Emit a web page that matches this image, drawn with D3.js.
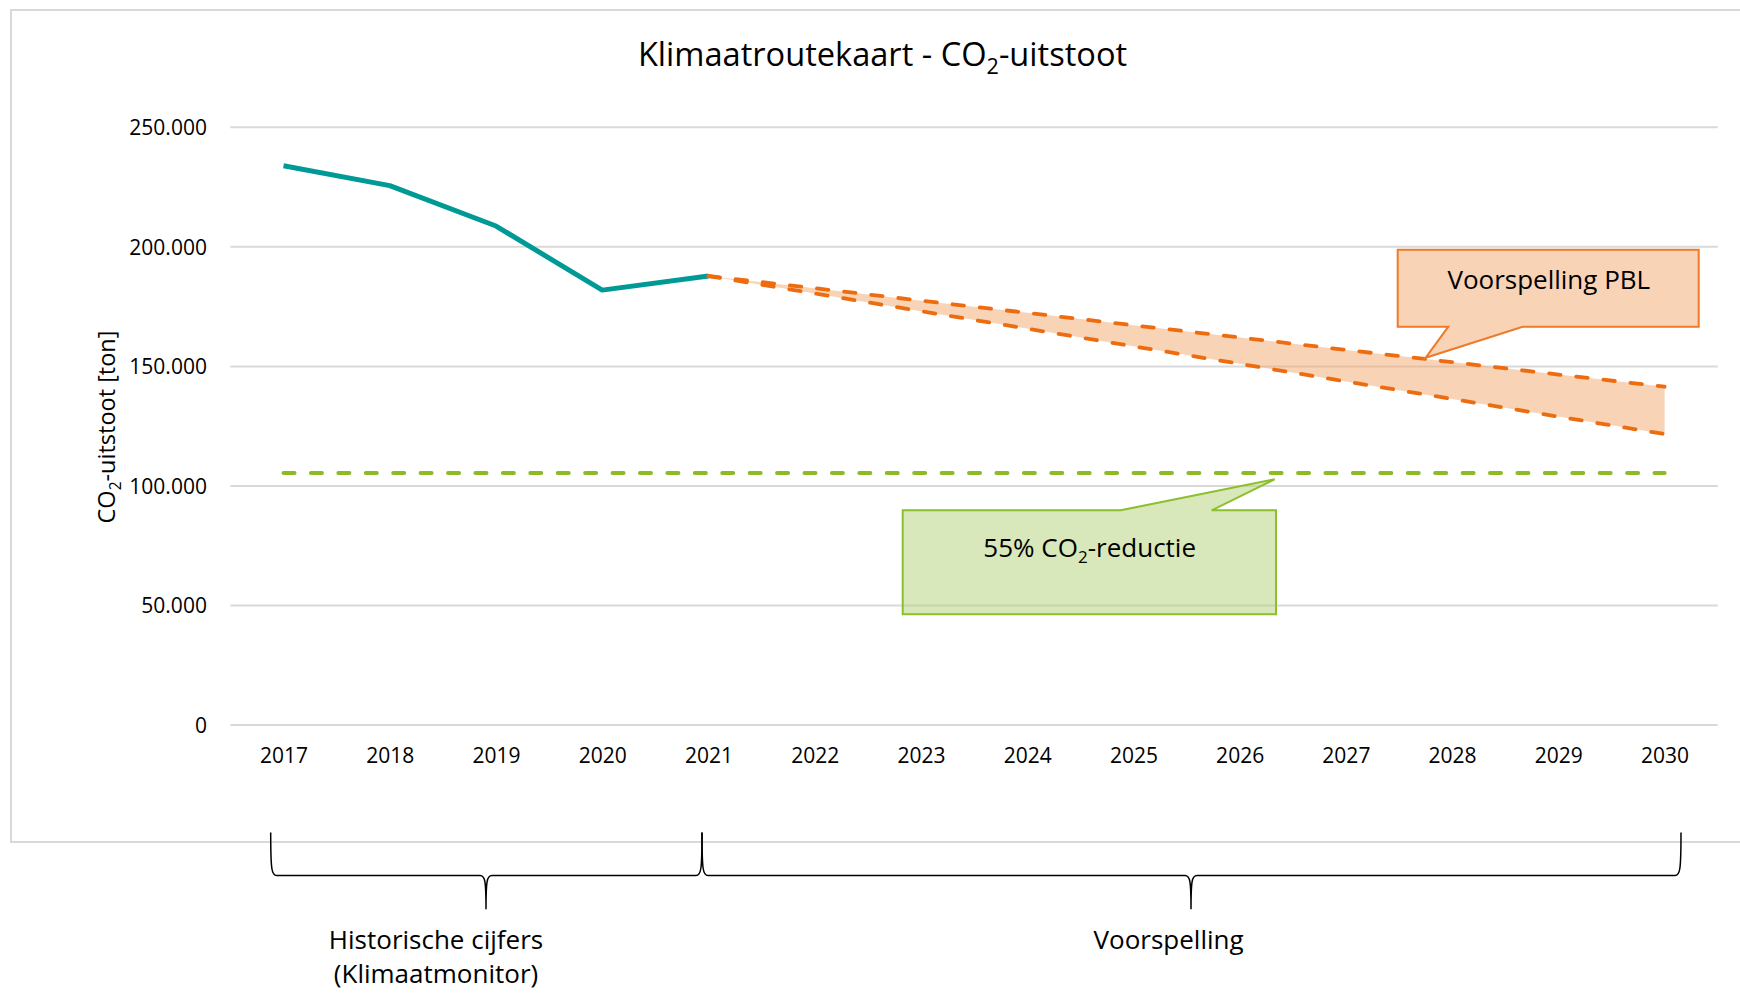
<!DOCTYPE html>
<html>
<head>
<meta charset="utf-8">
<script src="https://cdn.jsdelivr.net/npm/d3@7"></script>
<style>
  body { margin: 0; background: #fff; }
  text { font-family: "Open Sans", sans-serif; fill: #000; }
</style>
</head>
<body>
<script>
// Klimaatroutekaart - CO2-uitstoot (ton)

var years = [2017, 2018, 2019, 2020, 2021, 2022, 2023, 2024, 2025, 2026, 2027, 2028, 2029, 2030];
var histYears = [2017, 2018, 2019, 2020, 2021];
var histValues = [233700, 225400, 208500, 181700, 187600];
var pblYears = [2021, 2022, 2023, 2024, 2025, 2026, 2027, 2028, 2029, 2030];
var pblHigh = [187600, 182500, 177300, 172200, 167000, 161900, 156700, 151600, 146400, 141300];
var pblLow  = [187600, 180300, 172900, 165600, 158200, 150900, 143500, 136200, 128800, 121500];
var targetValues = [105200, 105200, 105200, 105200, 105200, 105200, 105200, 105200, 105200, 105200, 105200, 105200, 105200, 105200];
var yTicks = [0, 50000, 100000, 150000, 200000, 250000];

var WIDTH = 1740;
var HEIGHT = 994;

var TEAL = "#009a96";
var ORANGE = "#ee6c10";
var GREEN = "#8cbb24";
var GRID = "#d9d9d9";

var svg = d3.select("body").append("svg")
    .attr("width", WIDTH)
    .attr("height", HEIGHT);

// chart frame (runs off the right edge)
svg.append("rect")
    .attr("x", 11).attr("y", 10)
    .attr("width", 1760).attr("height", 832)
    .attr("fill", "none")
    .attr("stroke", GRID)
    .attr("stroke-width", 2);

var plotLeft = 230.4, plotRight = 1717.7;
var x = d3.scaleLinear().domain([2016.5, 2030.5]).range([plotLeft, plotRight]);
var y = d3.scaleLinear().domain([0, 250000]).range([724.6, 126.8]);

// y axis + gridlines
var fmt = function(d) { return d3.format(",")(d).replace(/,/g, "."); };
var yAxis = svg.append("g")
    .attr("transform", "translate(" + plotLeft + ",0)")
    .call(d3.axisLeft(y).tickValues(yTicks).tickFormat(fmt)
      .tickSize(-(plotRight - plotLeft)).tickPadding(23.5));
yAxis.select(".domain").remove();
yAxis.selectAll("line").attr("stroke", GRID).attr("stroke-width", 2);
yAxis.selectAll("text")
    .attr("dy", "0.37em")
    .style("font-family", "'Open Sans', sans-serif")
    .style("font-size", "21px")
    .attr("fill", "#000");

// x axis labels
var xAxis = svg.append("g")
    .attr("transform", "translate(0," + y(0) + ")")
    .call(d3.axisBottom(x).tickValues(years).tickFormat(d3.format("d")).tickSize(0));
xAxis.select(".domain").remove();
xAxis.selectAll("text")
    .attr("y", 38.5).attr("dy", 0)
    .style("font-family", "'Open Sans', sans-serif")
    .style("font-size", "21px")
    .attr("fill", "#000");

// forecast band
var band = d3.area()
    .x(function(d, i) { return x(pblYears[i]); })
    .y0(function(d, i) { return y(pblLow[i]); })
    .y1(function(d, i) { return y(pblHigh[i]); });
svg.append("path")
    .datum(pblYears)
    .attr("d", band)
    .attr("fill", "#f1a76d")
    .attr("fill-opacity", 0.5);

var line = d3.line()
    .x(function(d) { return x(d[0]); })
    .y(function(d) { return y(d[1]); });

// 55% target line
svg.append("path")
    .datum(d3.zip(years, targetValues))
    .attr("d", line)
    .attr("fill", "none")
    .attr("stroke", GREEN)
    .attr("stroke-width", 4)
    .attr("stroke-linecap", "round")
    .attr("stroke-dasharray", "11 16.42");

// historic line
svg.append("path")
    .datum(d3.zip(histYears, histValues))
    .attr("d", line)
    .attr("fill", "none")
    .attr("stroke", TEAL)
    .attr("stroke-width", 5)
    .attr("stroke-linejoin", "round");

// PBL forecast lines
[pblHigh, pblLow].forEach(function(vals) {
  svg.append("path")
      .datum(d3.zip(pblYears, vals))
      .attr("d", line)
      .attr("fill", "none")
      .attr("stroke", ORANGE)
      .attr("stroke-width", 3.8)
      .attr("stroke-linecap", "round")
      .attr("stroke-dasharray", "11.5 15.8");
});

// callout helper: box with a pointer to tip
function callout(box, p1, p2, tip, fill, stroke) {
  var pts;
  if (tip[1] > box.y1) {
    // pointer from bottom edge
    pts = [[box.x0, box.y0], [box.x1, box.y0], [box.x1, box.y1], [p2, box.y1],
           tip, [p1, box.y1], [box.x0, box.y1]];
  } else {
    // pointer from top edge
    pts = [[box.x0, box.y0], [p1, box.y0], tip, [p2, box.y0], [box.x1, box.y0],
           [box.x1, box.y1], [box.x0, box.y1]];
  }
  svg.append("path")
      .attr("d", "M" + pts.map(function(p) { return p.join(","); }).join("L") + "Z")
      .attr("fill", fill.c)
      .attr("fill-opacity", fill.o)
      .attr("stroke", stroke)
      .attr("stroke-width", 2);
}

callout({x0: 1397.7, y0: 249.7, x1: 1698.7, y1: 326.7}, 1448.3, 1522.7,
        [x(2027.75), y(153400)], {c: "#f1a76d", o: 0.5}, "#ee7a2a");
svg.append("text")
    .attr("x", 1548.8).attr("y", 289)
    .attr("text-anchor", "middle")
    .style("font-size", "26px")
    .text("Voorspelling PBL");

callout({x0: 902.7, y0: 510.3, x1: 1276, y1: 614.3}, 1120.7, 1211.7,
        [x(2026.33), y(102600)], {c: "#b3d175", o: 0.5}, "#8cbf2c");
var t55 = svg.append("text")
    .attr("x", 1089.7).attr("y", 557.3)
    .attr("text-anchor", "middle")
    .style("font-size", "26px");
t55.append("tspan").text("55% CO");
t55.append("tspan").attr("dy", 6).style("font-size", "17px").text("2");
t55.append("tspan").attr("dy", -6).text("-reductie");

// title
var title = svg.append("text")
    .attr("x", 882.5).attr("y", 65.7)
    .attr("text-anchor", "middle")
    .style("font-size", "32.6px");
title.append("tspan").text("Klimaatroutekaart - CO");
title.append("tspan").attr("dy", 8).style("font-size", "21.5px").text("2");
title.append("tspan").attr("dy", -8).text("-uitstoot");

// y axis title
var yt = svg.append("text")
    .attr("transform", "translate(114.5,427) rotate(-90)")
    .attr("text-anchor", "middle")
    .style("font-size", "23.5px");
yt.append("tspan").text("CO");
yt.append("tspan").attr("dy", 6).style("font-size", "15.5px").text("2");
yt.append("tspan").attr("dy", -6).text("-uitstoot [ton]");

// braces under the chart
function brace(xa, xm, xb) {
  var yt = 832.5, yh = 875.5, yp = 909.3;
  var d = "M" + xa + "," + yt +
      "C" + xa + "," + (yh - 5) + " " + (xa + 1) + "," + yh + " " + (xa + 6) + "," + yh +
      "L" + (xm - 6) + "," + yh +
      "C" + (xm - 1) + "," + yh + " " + xm + "," + (yh + 5) + " " + xm + "," + yp +
      "C" + xm + "," + (yh + 5) + " " + (xm + 1) + "," + yh + " " + (xm + 6) + "," + yh +
      "L" + (xb - 6) + "," + yh +
      "C" + (xb - 1) + "," + yh + " " + xb + "," + (yh - 5) + " " + xb + "," + yt;
  svg.append("path")
      .attr("d", d)
      .attr("fill", "none")
      .attr("stroke", "#000")
      .attr("stroke-width", 1.5);
}
brace(270.7, 486, 702);
brace(702, 1191, 1681);

svg.append("text")
    .attr("x", 436).attr("y", 948.7)
    .attr("text-anchor", "middle")
    .style("font-size", "26px")
    .text("Historische cijfers");
svg.append("text")
    .attr("x", 436).attr("y", 982.5)
    .attr("text-anchor", "middle")
    .style("font-size", "26px")
    .text("(Klimaatmonitor)");
svg.append("text")
    .attr("x", 1168.6).attr("y", 948.7)
    .attr("text-anchor", "middle")
    .style("font-size", "26px")
    .text("Voorspelling");
</script>
</body>
</html>
